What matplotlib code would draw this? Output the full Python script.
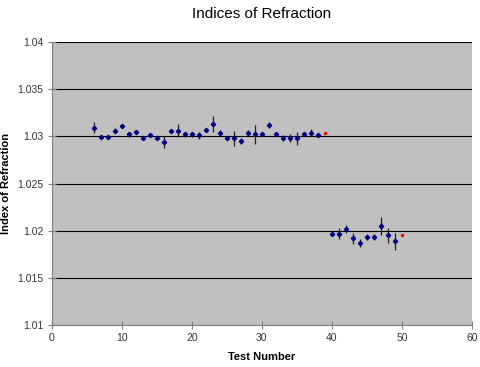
import matplotlib
matplotlib.use("Agg")
import matplotlib.pyplot as plt

plt.rcParams['font.family'] = ['Liberation Sans', 'DejaVu Sans']

# Test numbers, measured index and error
tests = [6, 7, 8, 9, 10, 11, 12, 13, 14, 15, 16, 17, 18, 19, 20, 21, 22, 23,
         24, 25, 26, 27, 28, 29, 30, 31, 32, 33, 34, 35, 36, 37, 38,
         40, 41, 42, 43, 44, 45, 46, 47, 48, 49]
index = [1.0309, 1.0299, 1.0299, 1.0306, 1.0311, 1.0302, 1.0305, 1.0298, 1.0301, 1.0298,
         1.0294, 1.0306, 1.0306, 1.0302, 1.0302, 1.0301, 1.0307, 1.0313,
         1.0304, 1.0298, 1.0298, 1.0295, 1.0304, 1.0302, 1.0302, 1.0312, 1.0302, 1.0298,
         1.0298, 1.0298, 1.0302, 1.0304, 1.0301,
         1.0197, 1.0197, 1.0202, 1.0192, 1.0187, 1.0193, 1.0193, 1.0205, 1.0195, 1.0189]
errors = [0.0006, 0.0001, 0.0002, 0.0003, 0.0001, 0.0003, 0.0001, 0.0001, 0.0002, 0.0001,
          0.0006, 0.0001, 0.0007, 0.0003, 0.0003, 0.0004, 0.0001, 0.0008,
          0.0003, 0.0001, 0.0008, 0.0003, 0.0003, 0.001, 0.0001, 0.0003, 0.0001, 0.0003,
          0.0004, 0.0007, 0.0001, 0.0004, 0.0001,
          0.0001, 0.0006, 0.0004, 0.0006, 0.0004, 0.0003, 0.0003, 0.001, 0.0008, 0.0009]

# Reference (red) points
ref_tests = [39, 50]
ref_index = [1.0303, 1.0195]

fig = plt.figure(figsize=(4.81, 3.67), dpi=100)
ax = fig.add_axes([0.108, 0.114, 0.873, 0.772])
ax.set_facecolor('#c0c0c0')

ax.errorbar(tests, index, yerr=errors, fmt='D', color='#000080', markersize=2.2,
            ecolor='#202020', elinewidth=0.9, capsize=0, zorder=3)
ax.plot(ref_tests, ref_index, 's', color='#ff0000', markersize=1.3, zorder=3)

ax.set_xlim(0, 60)
ax.set_ylim(1.01, 1.04)
ax.set_xticks(range(0, 61, 10))
ax.set_yticks([1.01, 1.015, 1.02, 1.025, 1.03, 1.035, 1.04])
ax.set_yticklabels(['1.01', '1.015', '1.02', '1.025', '1.03', '1.035', '1.04'])
ax.grid(axis='y', color='black', linewidth=0.8)
ax.set_axisbelow(True)

for side in ['top', 'right']:
    ax.spines[side].set_visible(False)
for side in ['left', 'bottom']:
    ax.spines[side].set_color('#808080')
ax.tick_params(direction='inout', length=6, color='#808080', labelsize=7.5,
               labelcolor='#333333', width=0.8, pad=3)

ax.set_title('Indices of Refraction', fontsize=11, pad=17)
ax.set_xlabel('Test Number', fontsize=8, fontweight='bold', labelpad=6)
ax.set_ylabel('Index of Refraction', fontsize=8, fontweight='bold')
ax.yaxis.set_label_coords(-0.098, 0.5)

plt.savefig('out.png', dpi=100)
